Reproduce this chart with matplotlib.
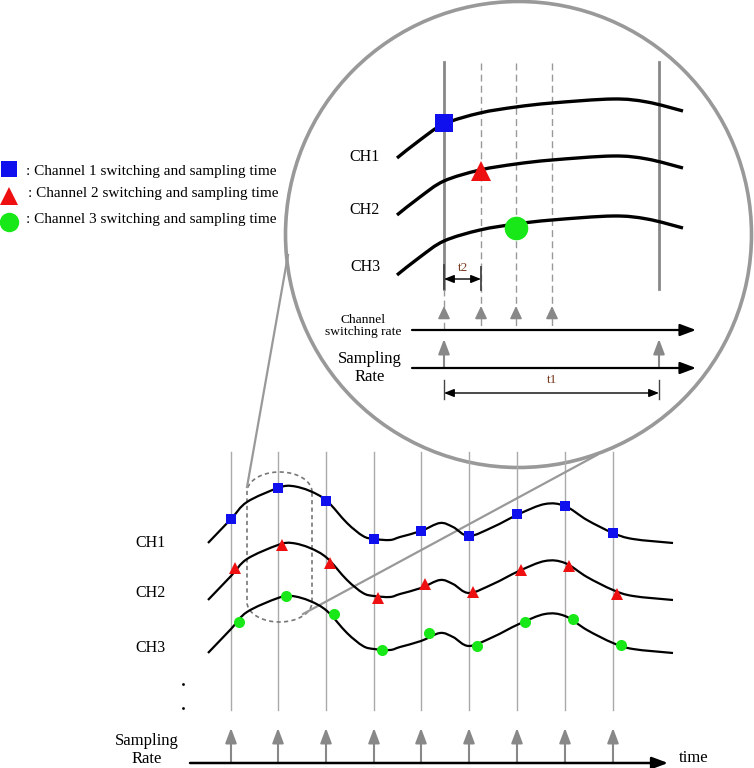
import numpy as np
import matplotlib.pyplot as plt
from matplotlib.path import Path
from matplotlib.patches import PathPatch, Circle

plt.rcParams["font.family"] = ["Liberation Serif", "DejaVu Serif"]

# sampling instants and marker levels (pixel units of the drawing)
sample_x = [231, 278, 326, 374, 421, 469, 517, 565, 613]
ch1_y = [519, 488, 501, 539, 531, 536, 514, 506, 533]
ch2_y = [568, 545, 563, 598, 584, 592, 570, 566, 594]
ch3_y = [622, 596, 614, 650, 633, 646, 622, 619, 645]

# CH1 waveform, CH2 / CH3 are the same trace moved down
wave_x = [208, 231, 247, 278, 292, 310, 327, 347, 363, 374, 390, 400,
          421, 440, 453, 469, 493, 519, 545, 565, 587, 613, 633, 673]
wave_y = [543, 519, 502, 488, 486, 491, 501, 523, 536, 539, 540, 537,
          531, 523, 527, 536, 527, 514, 504, 506, 520, 533, 539, 543]
wave_shift = [0, 57, 110]

# zoomed waveform inside the circle
zoom_x = [397, 420, 444, 480, 516, 552, 613, 647, 683]
zoom_y = [158, 140, 124, 113, 107, 103, 99, 102, 111]
zoom_shift = [0, 57, 117]
switch_x = [444, 481, 516, 552]
sample_zoom_x = [444, 659]

channels = ["CH1", "CH2", "CH3"]
legend_text = [": Channel 1 switching and sampling time",
               ": Channel 2 switching and sampling time",
               ": Channel 3 switching and sampling time"]

BLUE, RED, GREEN = "#1010ee", "#ee1010", "#18e818"
BROWN = "#7a3b1e"


def smooth_path(xs, ys):
    pts = np.column_stack([xs, ys]).astype(float)
    p = np.vstack([pts[0], pts, pts[-1]])
    verts, codes = [pts[0]], [Path.MOVETO]
    for i in range(1, len(p) - 2):
        c1 = p[i] + (p[i + 1] - p[i - 1]) / 6
        c2 = p[i + 1] - (p[i + 2] - p[i]) / 6
        verts += [c1, c2, p[i + 1]]
        codes += [Path.CURVE4] * 3
    return Path(verts, codes)


def arrow(ax, x0, y0, x1, y1, color="black", lw=1.5, hl=0.45, hw=0.18, ms=20, style="-|>", z=5):
    ax.annotate("", xy=(x1, y1), xytext=(x0, y0),
                arrowprops=dict(arrowstyle=f"{style},head_length={hl},head_width={hw}",
                                color=color, lw=lw, mutation_scale=ms,
                                shrinkA=0, shrinkB=0), zorder=z)


fig = plt.figure(figsize=(7.54, 7.68), dpi=100)
ax = fig.add_axes([0, 0, 1, 1])
ax.set_xlim(0, 754)
ax.set_ylim(768, 0)
ax.axis("off")

# ---------------- bottom: full time axis ----------------
for x in sample_x:
    ax.plot([x, x], [452, 710], color="#aaaaaa", lw=1, zorder=2)
    arrow(ax, x, 763, x, 728, color="#888888", lw=1.5, hl=0.45, hw=0.17)
arrow(ax, 190, 763, 668, 763, lw=1.8, hl=0.48, hw=0.18)
ax.text(679, 758, "time", fontsize=12, ha="left", va="center")
ax.text(147, 750, "Sampling\nRate", fontsize=12, ha="center", va="center", linespacing=1.15)

for shift, lab, ly in zip(wave_shift, channels, [543, 593, 648]):
    ax.add_patch(PathPatch(smooth_path(wave_x, np.array(wave_y) + shift),
                           fill=False, lw=1.6, ec="black", zorder=3))
    ax.text(150, ly, lab, fontsize=11.5, ha="center", va="center")

ax.plot(sample_x, ch1_y, "s", color=BLUE, ms=7, mew=0, zorder=4)
ax.plot(np.array(sample_x) + 4, ch2_y, "^", color=RED, ms=8, mew=0, zorder=4)
ax.plot(np.array(sample_x) + 8, ch3_y, "o", color=GREEN, ms=8, mew=0, zorder=4)
ax.plot([183, 183], [684, 708], ".", color="black", ms=2)

# dashed selection around the second sample
cx, rx, ry = 279.5, 32.5, 20
t = np.linspace(0, np.pi, 40)
top = np.column_stack([cx + rx * np.cos(t), 492 - ry * np.sin(t)])
bot = np.column_stack([cx + rx * np.cos(t + np.pi), 602 - ry * np.sin(t + np.pi)])
sel = np.vstack([top, bot, top[:1]])
ax.plot(sel[:, 0], sel[:, 1], color="#777777", lw=1.2, ls=(0, (2.5, 2)), zorder=2)

# connector lines to the magnifier
ax.plot([247, 288], [487, 255], color="#999999", lw=1.6, zorder=2)
ax.plot([303, 597], [614, 455], color="#999999", lw=1.6, zorder=2)

# ---------------- magnifier circle ----------------
ax.add_patch(Circle((518.5, 234.5), 233, fill=False, ec="#999999", lw=2.6, zorder=1))

for x in sample_zoom_x:
    ax.plot([x, x], [62, 289], color="#888888", lw=2, zorder=2)
ax.plot([444, 444], [289, 330], color="#999999", lw=1, ls=(0, (5, 3)), zorder=2)
for x in switch_x[1:]:
    ax.plot([x, x], [63, 330], color="#999999", lw=1, ls=(0, (5, 3)), zorder=2)
for x in switch_x:
    arrow(ax, x, 317, x, 306, color="#888888", lw=1.2, hl=0.42, hw=0.2, ms=18)

for shift, lab, ly in zip(zoom_shift, channels, [157, 210, 267]):
    ax.add_patch(PathPatch(smooth_path(zoom_x, np.array(zoom_y) + shift),
                           fill=False, lw=2.4, ec="black", zorder=3))
    ax.text(365, ly, lab, fontsize=11.5, ha="center", va="center")

ax.plot(444, 123, "s", color=BLUE, ms=12.5, mew=0, zorder=4)
ax.plot(481, 171, "^", color=RED, ms=15, mew=0, zorder=4)
ax.plot(516, 228, "o", color=GREEN, ms=17, mew=0, zorder=4)

# t2 bracket
ax.plot([444, 444], [265, 289], color="#444444", lw=1.3, zorder=4)
ax.plot([481, 481], [267, 290], color="#444444", lw=1.3, zorder=4)
arrow(ax, 444, 279, 481, 279, lw=1, style="<|-|>", hl=0.5, hw=0.2, ms=12)
ax.text(463, 268, "t2", fontsize=9.5, color=BROWN, ha="center", va="center")

# switching axis and sampling axis
arrow(ax, 412, 330, 696, 330, lw=1.6, hl=0.48, hw=0.18)
ax.text(363, 326, "Channel\nswitching rate", fontsize=9.7, ha="center", va="center", linespacing=1.1)
for x in sample_zoom_x:
    arrow(ax, x, 368, x, 339, color="#888888", lw=1.5, hl=0.45, hw=0.17)
arrow(ax, 412, 368, 696, 368, lw=1.6, hl=0.48, hw=0.18)
ax.text(370, 368, "Sampling\nRate", fontsize=12, ha="center", va="center", linespacing=1.15)

# t1 bracket
for x in sample_zoom_x:
    ax.plot([x, x], [380, 399], color="#444444", lw=1, zorder=4)
arrow(ax, 444, 393, 659, 393, lw=1, style="<|-|>", hl=0.5, hw=0.2, ms=12)
ax.text(552, 380, "t1", fontsize=9.5, color=BROWN, ha="center", va="center")

# ---------------- legend ----------------
ax.plot(8.5, 168.5, "s", color=BLUE, ms=11, mew=0, clip_on=False)
ax.plot(9, 196, "^", color=RED, ms=13, mew=0, clip_on=False)
ax.plot(9, 222, "o", color=GREEN, ms=14, mew=0, clip_on=False)
for txt, tx, ty in zip(legend_text, [26, 28, 26], [172, 193, 220]):
    ax.text(tx, ty, txt, fontsize=11, ha="left", va="center")

fig.savefig("out.png", dpi=100)
